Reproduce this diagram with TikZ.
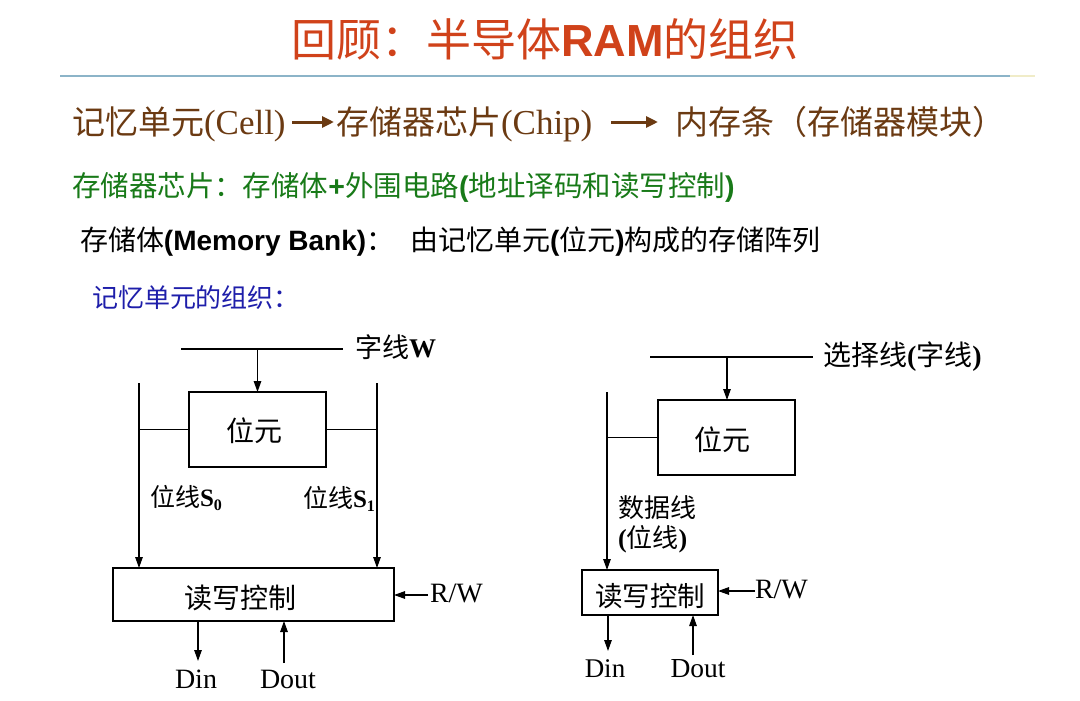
\documentclass[tikz,border=0pt]{standalone}
\usepackage{fontspec}
\setmainfont{Liberation Serif}
\newfontfamily\cjk{Noto Sans CJK SC}
\newfontfamily\ars{Liberation Sans}
\usetikzlibrary{arrows.meta}
\definecolor{titlered}{RGB}{208,66,26}
\definecolor{brownt}{RGB}{107,58,18}
\definecolor{greent}{RGB}{24,122,24}
\definecolor{bluet}{RGB}{30,30,170}
\definecolor{lineblue}{RGB}{140,180,200}
\definecolor{paley}{RGB}{240,236,200}
\newcommand\fs[1]{\fontsize{#1}{#1}\selectfont}
\newcommand\bsans[1]{{\ars\bfseries #1}}
\begin{document}
\begin{tikzpicture}[x=1pt,y=-1pt,
  every node/.style={inner sep=0pt,outer sep=0pt},
  txt/.style={anchor=base west},
  wire/.style={line width=1.3pt},
  arr/.style={line width=1.3pt,-{Triangle[length=11pt,width=7.5pt]}},
  bigarr/.style={line width=3pt,brownt,-{Triangle[length=12pt,width=11pt]}},
  boxed/.style={draw,line width=1.3pt}]
\useasboundingbox[fill=white] (0,0) rectangle (1080,701);

% title
\node[anchor=base,text=titlered] (title) at (545,57) {\cjk\fs{45}回顾：半导体\bsans{RAM}的组织};
\coordinate (hl1) at (60,76);
\coordinate (hl2) at (1010,76);
\coordinate (hl3) at (1035,76);
\draw[lineblue,line width=2pt] (hl1) -- (hl2);
\draw[paley,line width=2pt] (hl2) -- (hl3);

% line 2
\node[txt,text=brownt] (l2a) at (72,134.5) {\cjk\fs{33}记忆单元{\rmfamily\fs{35}(Cell)}};
\node[txt,text=brownt] (l2b) at (336,134.5) {\cjk\fs{33}存储器芯片{\rmfamily\fs{35}(Chip)}};
\node[txt,text=brownt] (l2c) at (675,134.5) {\cjk\fs{33}内存条（存储器模块）};
\coordinate (a1s) at (292,122);
\coordinate (a1e) at (334,122);
\coordinate (a2s) at (611,122);
\coordinate (a2e) at (658,122);
\draw[bigarr] (a1s) -- (a1e);
\draw[bigarr] (a2s) -- (a2e);

% line 3
\node[txt,text=greent] (l3) at (72,196) {\cjk\fs{28.5}存储器芯片：存储体\bsans{+}外围电路\bsans{(}地址译码和读写控制\bsans{)}};
% line 4
\node[txt] (l4a) at (80,250.6) {\cjk\fs{28}存储体\bsans{(Memory Bank)}：};
\node[txt] (l4b) at (410,250.6) {\cjk\fs{28}由记忆单元\bsans{(}位元\bsans{)}构成的存储阵列};
% line 5
\node[txt,text=bluet] (l5) at (92,307) {\cjk\fs{26}记忆单元的组织：};

% ---------- left diagram ----------
\node[boxed,minimum width=137pt,minimum height=75pt] (bit1) at (257.5,429.5) {};
\node (bit1t) at (254,431) {\cjk\fs{28}位元};
\node[boxed,minimum width=281pt,minimum height=53pt] (rw1) at (253.5,594.5) {};
\node[anchor=base] (rw1t) at (240,608.6) {\cjk\fs{28}读写控制};

\coordinate (w1a) at (181,349);
\coordinate (w1b) at (343,349);
\draw[wire] (w1a) -- (w1b);
\draw[arr] (bit1.north |- w1a) -- (bit1.north);
\node[txt] (w1l) at (355,357) {\cjk\fs{27}字线{\rmfamily\bfseries W}};

\coordinate (s0top) at (139,383);
\coordinate (s1top) at (377,383);
\draw[arr] (s0top) -- (s0top |- rw1.north);
\draw[arr] (s1top) -- (s1top |- rw1.north);
\draw[wire] (bit1.west) -- (bit1.west -| s0top);
\draw[wire] (bit1.east) -- (bit1.east -| s1top);
\node[txt] (s0l) at (150,506.5) {\cjk\fs{25}位线{\rmfamily\bfseries S\raisebox{-4pt}{\fs{16}0}}};
\node[txt] (s1l) at (303,507.5) {\cjk\fs{25}位线{\rmfamily\bfseries S\raisebox{-4pt}{\fs{16}1}}};

\node[txt] (rwl1) at (430,602) {\fs{28}R/W};
\coordinate (rw1in) at (428,595);
\draw[arr] (rw1in) -- (rw1in -| rw1.east);

\node[anchor=base] (din1) at (196,688) {\fs{28}Din};
\node[anchor=base] (dout1) at (288,688) {\fs{28}Dout};
\coordinate (din1e) at (198,661);
\coordinate (dout1s) at (284,663);
\draw[arr] (din1e |- rw1.south) -- (din1e);
\draw[arr] (dout1s) -- (dout1s |- rw1.south);

% ---------- right diagram ----------
\node[boxed,minimum width=137pt,minimum height=75pt] (bit2) at (726.5,437.5) {};
\node (bit2t) at (722,440) {\cjk\fs{28}位元};
\node[boxed,minimum width=136pt,minimum height=45pt] (rw2) at (650,592.5) {};
\node[anchor=base] (rw2t) at (650,606.6) {\cjk\fs{27.5}读写控制};

\coordinate (w2a) at (650,357);
\coordinate (w2b) at (813,357);
\draw[wire] (w2a) -- (w2b);
\coordinate (w2d) at (727,357);
\draw[arr] (w2d) -- (w2d |- bit2.north);
\node[txt] (w2l) at (823,365.6) {\cjk\fs{28}选择线{\rmfamily\bfseries(}字线{\rmfamily\bfseries)}};

\coordinate (dtop) at (607,392);
\draw[arr] (dtop) -- (dtop |- rw2.north);
\draw[wire] (bit2.west) -- (bit2.west -| dtop);
\node[txt] (dl1) at (618,517) {\cjk\fs{26}数据线};
\node[txt] (dl2) at (618,547) {\cjk\fs{26}{\rmfamily\bfseries(}位线{\rmfamily\bfseries)}};

\node[txt] (rwl2) at (755,598) {\fs{28}R/W};
\coordinate (rw2in) at (755,591);
\draw[arr] (rw2in) -- (rw2in -| rw2.east);

\node[anchor=base] (din2) at (605,677) {\fs{27}Din};
\node[anchor=base] (dout2) at (698,677) {\fs{27.5}Dout};
\coordinate (din2e) at (608,651);
\coordinate (dout2s) at (693,655);
\draw[arr] (din2e |- rw2.south) -- (din2e);
\draw[arr] (dout2s) -- (dout2s |- rw2.south);
\end{tikzpicture}
\end{document}
